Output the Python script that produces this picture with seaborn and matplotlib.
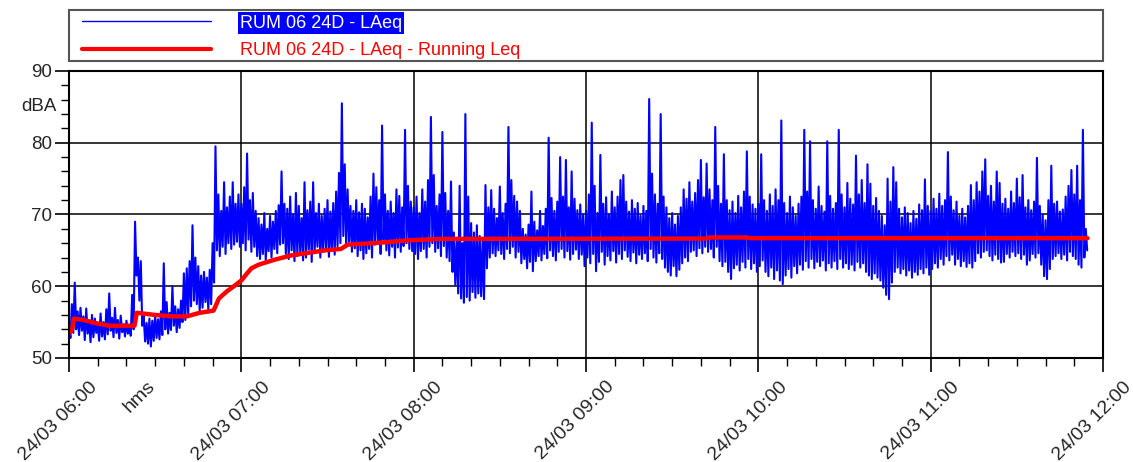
import numpy as np
import pandas as pd
import seaborn as sns
import matplotlib.pyplot as plt
import matplotlib.dates as mdates
from matplotlib.ticker import MultipleLocator
from matplotlib.lines import Line2D
from matplotlib.patches import Rectangle
from matplotlib.transforms import ScaledTranslation

# LAeq: for every minute from 24/03 06:00 the highest
# and then the lowest level (dBA), one list per hour
laeq_06 = [54.0, 52.8, 57.5, 53.5, 60.5, 54.0, 56.5, 53.2, 57.0, 53.8,
           55.8, 52.5, 56.9, 53.4, 55.2, 52.2, 56.0, 52.9, 55.5, 53.5,
           54.8, 52.4, 56.2, 53.0, 55.0, 52.6, 56.8, 53.3, 59.0, 53.8,
           55.6, 52.9, 57.0, 53.5, 55.3, 52.7, 55.9, 53.6, 54.7, 53.0,
           55.2, 53.4, 54.6, 53.1, 58.8, 54.0, 69.0, 61.5, 64.0, 58.0,
           63.5, 54.5, 55.8, 52.3, 54.9, 52.0, 55.5, 51.6, 55.2, 52.4,
           56.0, 52.8, 55.4, 52.6, 56.5, 53.2, 63.2, 54.0, 57.8, 53.4,
           56.3, 53.9, 60.0, 54.5, 57.2, 53.6, 56.8, 54.2, 58.0, 55.0,
           61.8, 55.3, 62.5, 56.0, 63.5, 57.2, 68.5, 58.0, 64.0, 57.5,
           62.8, 56.5, 61.5, 57.0, 62.0, 57.8, 61.2, 56.8, 62.3, 57.5,
           66.0, 60.5, 79.5, 65.0, 72.8, 64.2, 70.5, 65.5, 74.5, 64.5,
           71.0, 66.0, 72.5, 65.2, 74.5, 65.8, 71.5, 66.2, 72.8, 65.5]
laeq_07 = [71.5, 66.0, 73.8, 65.0, 78.5, 66.5, 72.0, 64.8, 73.0, 65.5,
           70.5, 64.2, 69.5, 63.8, 68.6, 64.5, 70.2, 63.6, 68.0, 64.9,
           69.8, 64.0, 69.0, 65.2, 70.5, 64.6, 71.3, 65.8, 76.0, 66.0,
           71.5, 64.5, 70.8, 63.8, 72.5, 65.0, 70.0, 63.5, 73.0, 64.2,
           71.2, 64.8, 69.5, 63.6, 74.5, 64.0, 70.6, 65.1, 71.8, 63.4,
           74.5, 64.6, 70.2, 65.5, 71.5, 64.0, 69.8, 64.8, 70.8, 65.3,
           72.0, 64.1, 70.4, 65.0, 71.6, 64.4, 73.2, 65.6, 75.8, 66.0,
           85.5, 67.0, 77.0, 65.5, 73.5, 66.2, 71.2, 64.8, 70.5, 65.3,
           72.0, 64.2, 70.3, 65.0, 71.5, 63.8, 70.8, 64.6, 69.6, 65.2,
           72.5, 64.0, 75.7, 65.8, 73.8, 66.0, 72.0, 64.5, 82.4, 66.5,
           72.8, 65.0, 70.5, 64.3, 71.8, 65.5, 70.2, 64.0, 73.5, 65.4,
           72.6, 64.8, 71.0, 65.6, 81.8, 66.0, 74.0, 65.2, 71.8, 64.9]
laeq_08 = [71.0, 64.5, 72.5, 63.8, 70.2, 64.9, 73.5, 65.2, 71.8, 64.0,
           74.8, 65.5, 83.6, 66.0, 75.5, 64.8, 71.2, 65.3, 72.8, 64.2,
           81.5, 65.6, 73.0, 64.0, 70.5, 63.5, 74.6, 62.0, 67.5, 60.2,
           66.2, 59.0, 74.0, 58.3, 66.0, 57.7, 84.0, 58.5, 72.5, 58.0,
           68.8, 59.2, 67.5, 58.4, 68.5, 59.0, 67.0, 58.6, 66.5, 58.2,
           74.1, 62.5, 71.0, 64.0, 73.4, 64.6, 70.8, 64.2, 69.5, 65.0,
           73.9, 64.5, 70.2, 63.8, 71.5, 65.2, 82.2, 64.6, 74.8, 65.5,
           72.6, 64.0, 71.8, 64.8, 70.5, 63.2, 68.0, 63.8, 67.2, 62.5,
           68.6, 63.4, 73.2, 62.1, 69.0, 63.5, 67.8, 64.2, 70.5, 63.6,
           68.4, 64.5, 70.8, 63.9, 80.7, 65.0, 72.3, 64.2, 70.5, 63.6,
           71.8, 64.8, 78.0, 65.2, 72.5, 64.0, 77.6, 64.9, 71.0, 63.7,
           76.0, 64.5, 72.2, 65.1, 70.6, 63.8, 71.4, 64.4, 70.0, 62.8]
laeq_09 = [70.5, 64.0, 72.8, 63.2, 82.8, 64.5, 74.0, 62.1, 70.2, 63.4,
           78.3, 64.8, 71.5, 63.0, 72.4, 64.2, 70.0, 63.6, 73.2, 64.9,
           71.0, 63.3, 72.5, 64.5, 74.8, 63.8, 75.5, 65.0, 71.8, 64.1,
           70.4, 63.5, 72.0, 64.7, 70.8, 63.2, 71.6, 64.4, 69.8, 63.8,
           71.2, 64.6, 70.5, 63.5, 86.1, 65.2, 75.7, 64.0, 72.8, 63.3,
           71.5, 64.6, 84.0, 63.8, 72.5, 62.6, 71.0, 62.0, 69.5, 61.5,
           70.2, 62.8, 68.6, 61.4, 69.8, 62.3, 71.0, 63.2, 73.5, 64.0,
           72.2, 63.5, 74.5, 64.8, 71.8, 65.0, 73.0, 64.2, 74.8, 65.3,
           77.6, 64.6, 72.4, 65.5, 77.1, 64.8, 73.5, 65.2, 72.0, 64.0,
           82.2, 65.5, 74.0, 63.5, 71.5, 62.8, 78.4, 63.4, 72.0, 62.0,
           70.6, 61.0, 71.8, 62.5, 70.2, 63.0, 72.6, 62.2, 71.0, 63.4,
           73.2, 62.6, 78.8, 63.8, 72.5, 62.4, 71.4, 63.2, 70.8, 62.0]
laeq_10 = [71.5, 62.8, 78.4, 63.6, 72.0, 62.0, 70.5, 61.4, 72.8, 62.6,
           71.2, 61.0, 73.5, 62.2, 72.0, 60.8, 83.1, 60.3, 71.6, 61.5,
           70.2, 62.4, 72.5, 61.2, 71.0, 62.8, 69.8, 61.8, 71.5, 63.0,
           72.5, 62.3, 81.8, 63.5, 73.2, 62.6, 80.2, 63.8, 72.0, 62.5,
           70.8, 63.4, 73.9, 62.8, 71.2, 63.6, 70.4, 62.2, 80.2, 63.2,
           72.6, 62.6, 70.8, 63.5, 71.6, 62.4, 81.8, 63.8, 72.8, 62.6,
           71.0, 63.2, 74.4, 62.4, 72.2, 63.0, 71.4, 62.2, 78.2, 63.4,
           72.8, 62.6, 74.8, 63.2, 71.6, 62.0, 77.0, 61.5, 74.3, 61.0,
           71.2, 61.8, 72.3, 61.2, 70.5, 60.8, 69.8, 59.8, 68.5, 58.8,
           75.0, 58.2, 71.8, 60.5, 76.6, 62.0, 74.5, 62.6, 70.8, 61.8,
           69.6, 62.4, 71.0, 61.5, 70.2, 62.2, 68.8, 61.2, 70.5, 62.0,
           69.4, 61.6, 71.4, 62.4, 70.6, 61.8, 74.9, 62.6, 71.2, 61.6]
laeq_11 = [70.5, 62.4, 72.2, 63.2, 70.8, 62.6, 72.9, 63.8, 71.2, 63.0,
           72.0, 64.2, 78.7, 63.6, 72.5, 64.4, 70.6, 63.0, 71.8, 63.8,
           69.8, 62.8, 70.8, 63.5, 69.6, 62.7, 71.2, 63.2, 74.1, 62.6,
           72.0, 63.5, 74.5, 64.6, 73.2, 64.0, 76.0, 64.8, 77.7, 65.0,
           72.6, 64.2, 74.0, 63.6, 71.8, 64.4, 76.0, 63.8, 74.4, 63.3,
           71.5, 63.4, 72.2, 64.5, 70.8, 64.0, 73.2, 64.8, 71.6, 64.2,
           75.0, 64.6, 72.4, 63.8, 75.5, 64.4, 71.0, 63.0, 72.0, 63.6,
           70.6, 64.5, 71.8, 64.0, 77.9, 64.6, 71.2, 63.0, 70.0, 61.4,
           69.2, 61.0, 72.0, 62.4, 76.8, 63.8, 71.5, 64.2, 71.8, 64.6,
           70.4, 63.8, 70.7, 64.4, 72.5, 63.6, 74.0, 64.8, 76.2, 64.2,
           72.8, 63.8, 76.8, 63.0, 72.0, 62.6, 81.8, 64.0, 68.0, 65.0]

# running Leq: minutes after 06:00 and level (dBA)
leq_min = [0, 1, 1.7, 5, 10, 14, 22.8, 23.6, 30, 36, 41, 45.5, 50.3, 51,
           52.2, 55, 57.4, 60, 62, 63.5, 66, 71.6, 77.4, 89, 94.7, 97, 106,
           118, 130, 222, 223, 236, 237, 354.6]
leq_db = [53.5, 53.9, 55.5, 55.3, 54.8, 54.5, 54.5, 56.3, 56.0, 55.8, 55.8,
          56.3, 56.6, 57.2, 58.3, 59.3, 60.0, 60.8, 61.8, 62.5, 63.0, 63.7,
          64.3, 65.0, 65.2, 65.8, 66.0, 66.4, 66.6, 66.65, 66.8, 66.8, 66.7,
          66.7]

labels = ["RUM 06 24D - LAeq", "RUM 06 24D - LAeq - Running Leq"]

start = pd.Timestamp("2024-03-24 06:00")
laeq = laeq_06 + laeq_07 + laeq_08 + laeq_09 + laeq_10 + laeq_11
df = pd.DataFrame({"time": start + pd.to_timedelta(np.arange(len(laeq)) * 30, unit="s"),
                   "dBA": laeq})
leq = pd.DataFrame({"time": start + pd.to_timedelta(leq_min, unit="min"), "dBA": leq_db})

sns.set_style("ticks")
plt.rcParams["font.family"] = ["Liberation Sans", "DejaVu Sans"]

fig = plt.figure(figsize=(11.33, 4.62), dpi=100)
ax = fig.add_axes([69 / 1133, 104 / 462, 1034 / 1133, 287 / 462])

sns.lineplot(data=df, x="time", y="dBA", ax=ax, color="#0000ff", lw=1.5,
             estimator=None, sort=False)
sns.lineplot(data=leq, x="time", y="dBA", ax=ax, color="#ff0000", lw=3.2,
             estimator=None, sort=False)

ax.set_xlim(start, start + pd.Timedelta(hours=6))
ax.set_ylim(50, 90)
ax.xaxis.set_major_locator(mdates.HourLocator())
ax.xaxis.set_minor_locator(mdates.MinuteLocator(byminute=range(0, 60, 10)))
ax.xaxis.set_major_formatter(mdates.DateFormatter("%d/%m %H:%M"))
ax.yaxis.set_major_locator(MultipleLocator(10))
ax.yaxis.set_minor_locator(MultipleLocator(2))
ax.grid(which="major", color="black", lw=1.1)
ax.set_xlabel("")
ax.set_ylabel("")

for s in ax.spines.values():
    s.set_visible(True)
    s.set_color("black")
    s.set_linewidth(1.5)

ax.tick_params(which="major", length=10, width=1.2, color="black", pad=2)
ax.tick_params(which="minor", length=6, width=1.0, color="black")
ax.tick_params(axis="y", labelsize=13.5)
ax.tick_params(axis="x", labelrotation=45, labelsize=14, pad=9)
shift = ScaledTranslation(26 / 100, 0, fig.dpi_scale_trans)
for lbl in ax.get_xticklabels():
    lbl.set_ha("right")
    lbl.set_va("center")
    lbl.set_rotation_mode("anchor")
    lbl.set_transform(lbl.get_transform() + shift)

ax.text(-0.012, 0.875, "dBA", transform=ax.transAxes, ha="right", va="center",
        fontsize=13.5)
fig.text(140 / 1133, 1 - 397 / 462, "hms", rotation=45, ha="center", va="center",
         fontsize=14)

# legend frame spans the plot width, entries start a little inside it
fig.patches.append(Rectangle((68.5 / 1133, 1 - 61 / 462), 1034.5 / 1133, 51 / 462,
                             transform=fig.transFigure, fill=False,
                             edgecolor="#555555", lw=1.5))
handles = [Line2D([], [], color="#0000ff", lw=1.0),
           Line2D([], [], color="#ff0000", lw=3.0)]
leg = fig.legend(handles, labels, loc="upper left",
                 bbox_to_anchor=(80 / 1133, 1 - 12.5 / 462),
                 frameon=False, fontsize=13, handlelength=7.16,
                 handletextpad=1.59, labelspacing=0.58, borderpad=0.12,
                 borderaxespad=0)
t1, t2 = leg.get_texts()
t1.set_color("white")
t1.set_bbox(dict(facecolor="#0000ff", edgecolor="none", pad=1.5))
t2.set_color("#ff0000")

fig.savefig("out.png", dpi=100)
